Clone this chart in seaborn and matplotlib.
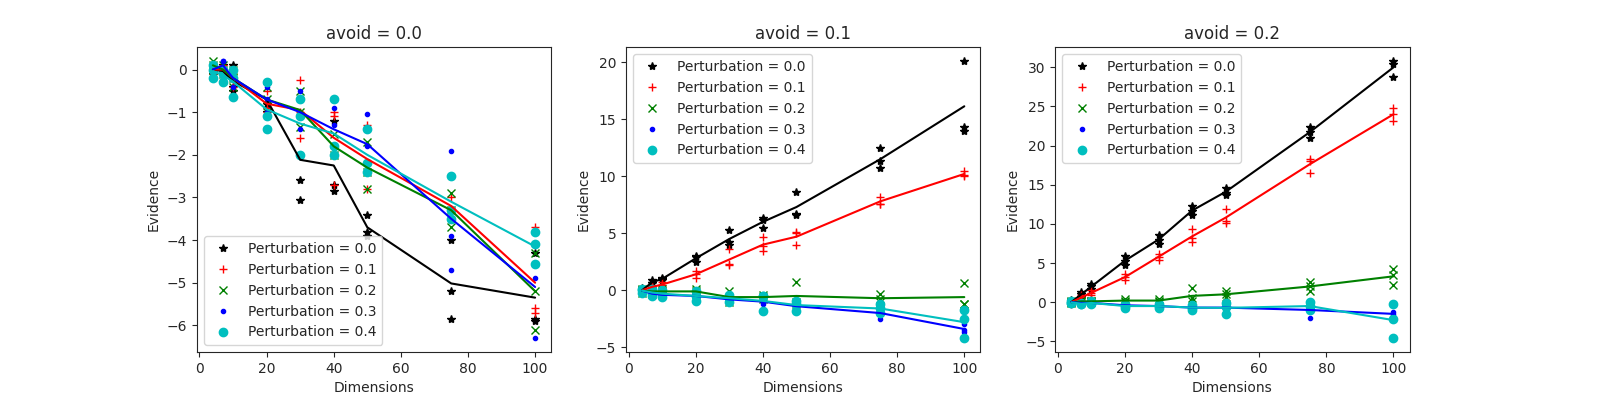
import matplotlib
matplotlib.use("Agg")
import matplotlib.pyplot as plt
import seaborn as sns
import pandas as pd

dims = [4, 7, 10, 20, 30, 40, 50, 75, 100]
avoids = [0.0, 0.1, 0.2]
perts = [0.0, 0.1, 0.2, 0.3, 0.4]

# samples per (avoid, perturbation): one list of 3 trials per dimension
ev_a0_p0 = [[0.1,-0.1,0.0],[0.1,-0.1,-0.1],[0.1,-0.4,-0.5],[-0.3,-0.8,-1.0],[-0.7,-2.6,-3.05],[-1.2,-2.7,-2.85],[-3.4,-3.9,-3.8],[-4.0,-5.2,-5.85],[-4.3,-5.85,-5.9]]
ev_a0_p1 = [[0.1,0.0,-0.1],[0.1,0.0,-0.1],[0.0,-0.2,-0.4],[-0.5,-0.9,-1.0],[-0.25,-1.6,-1.0],[-1.0,-2.7,-1.1],[-1.3,-2.8,-2.2],[-3.0,-3.3,-3.3],[-3.7,-5.6,-5.7]]
ev_a0_p2 = [[0.2,0.1,0.0],[0.1,0.0,-0.1],[0.0,-0.2,-0.4],[-0.4,-0.7,-1.0],[-0.5,-1.0,-1.35],[-1.5,-1.9,-2.0],[-1.7,-2.4,-2.8],[-2.9,-3.3,-3.7],[-4.3,-5.2,-6.1]]
ev_a0_p3 = [[0.1,0.0,-0.1],[0.2,0.2,-0.1],[0.0,-0.2,-0.4],[-0.4,-0.7,-1.0],[-0.5,-1.4,-1.1],[-0.9,-1.3,-2.0],[-1.05,-1.8,-2.4],[-3.9,-4.7,-1.9],[-4.9,-4.1,-6.3]]
ev_a0_p4 = [[0.1,0.0,-0.2],[0.0,-0.1,-0.3],[0.0,-0.2,-0.65],[-0.3,-1.1,-1.4],[-0.7,-1.1,-2.0],[-0.7,-1.8,-2.0],[-1.4,-2.2,-2.4],[-2.5,-3.3,-3.5],[-3.8,-4.1,-4.55]]

ev_a1_p0 = [[0.2,0.0,-0.2],[0.9,0.6,0.6],[1.1,0.9,1.0],[3.0,2.5,2.9],[5.3,4.0,4.2],[6.3,5.5,6.2],[8.6,6.7,6.6],[12.5,10.7,11.3],[20.1,14.3,14.0]]
ev_a1_p1 = [[0.1,0.0,-0.1],[0.4,0.3,0.2],[0.7,0.5,0.3],[1.7,1.1,1.4],[3.6,2.3,2.2],[4.7,3.4,3.9],[5.1,4.0,5.0],[8.2,7.6,7.6],[10.5,10.0,10.1]]
ev_a1_p2 = [[0.1,0.0,-0.2],[0.1,-0.1,-0.3],[0.1,-0.1,-0.3],[0.1,-0.1,-0.3],[-0.1,-0.7,-1.0],[-0.4,-0.6,-0.8],[0.7,-1.0,-1.2],[-0.3,-0.8,-1.0],[0.6,-1.2,-1.2]]
ev_a1_p3 = [[0.1,0.0,-0.2],[-0.1,-0.3,-0.5],[-0.2,-0.4,-0.6],[-0.3,-0.5,-0.7],[-0.6,-0.8,-1.0],[-0.8,-1.0,-1.2],[-1.2,-1.4,-1.6],[-1.6,-2.5,-1.9],[-3.0,-3.5,-3.7]]
ev_a1_p4 = [[0.1,0.0,-0.2],[0.1,-0.2,-0.5],[0.0,-0.3,-0.6],[-0.1,-0.5,-0.9],[-0.4,-0.7,-1.0],[-0.5,-0.5,-1.8],[-0.9,-1.2,-1.8],[-1.2,-1.6,-2.0],[-1.7,-2.5,-4.2]]

ev_a2_p0 = [[0.3,0.0,-0.3],[1.3,1.0,0.7],[2.3,2.0,1.7],[5.9,5.3,4.7],[8.6,8.0,7.4],[12.3,11.7,11.1],[14.6,14.0,13.7],[22.4,21.7,21.0],[30.8,30.4,28.8]]
ev_a2_p1 = [[0.2,0.0,-0.2],[0.9,0.6,0.3],[1.5,1.2,0.9],[3.6,3.2,2.8],[6.2,5.8,5.4],[9.3,8.2,7.7],[11.9,10.4,10.1],[18.3,16.5,18.0],[24.8,23.2,24.0]]
ev_a2_p2 = [[0.1,0.0,-0.1],[0.2,0.1,0.0],[0.2,0.1,0.0],[0.4,0.2,0.0],[0.4,0.2,0.0],[1.8,0.5,0.1],[1.4,1.0,0.6],[2.6,2.0,1.4],[4.2,2.2,3.5]]
ev_a2_p3 = [[0.1,0.0,-0.1],[0.0,-0.1,-0.2],[0.0,-0.1,-0.2],[-0.2,-0.4,-0.6],[-0.3,-0.5,-0.7],[-0.5,-0.7,-0.9],[-0.5,-0.7,-0.9],[-2.0,-0.6,-0.4],[-1.2,-1.5,-1.8]]
ev_a2_p4 = [[0.1,-0.1,-0.1],[-0.1,-0.2,-0.3],[0.1,-0.1,-0.3],[-0.2,-0.5,-0.8],[-0.2,-0.5,-0.8],[-0.4,-0.7,-1.0],[-0.1,-0.6,-1.5],[0.0,-0.5,-1.0],[-0.2,-2.1,-4.6]]

series = {
    0.0: [ev_a0_p0, ev_a0_p1, ev_a0_p2, ev_a0_p3, ev_a0_p4],
    0.1: [ev_a1_p0, ev_a1_p1, ev_a1_p2, ev_a1_p3, ev_a1_p4],
    0.2: [ev_a2_p0, ev_a2_p1, ev_a2_p2, ev_a2_p3, ev_a2_p4],
}

colors = ["k", "r", "g", "b", "c"]
markers = ["*", "+", "x", ".", "o"]

rows = []
for a in avoids:
    for p, s in zip(perts, series[a]):
        for d, trials in zip(dims, s):
            for v in trials:
                rows.append((a, p, d, v))
df = pd.DataFrame(rows, columns=["avoid", "pert", "dim", "ev"])

sns.set_style("ticks")
plt.rcParams["font.family"] = ["DejaVu Sans"]
fig, axes = plt.subplots(1, 3, figsize=(16, 4), dpi=100)
fig.subplots_adjust(left=0.123, right=0.881, wspace=0.211, top=0.882, bottom=0.12)

for ax, a in zip(axes, avoids):
    sub = df[df.avoid == a]
    for i, p in enumerate(perts):
        g = sub[sub.pert == p]
        ax.plot(g.dim, g.ev, linestyle="none", marker=markers[i], color=colors[i],
                label=f"Perturbation = {p}")
    for i, p in enumerate(perts):
        g = sub[sub.pert == p]
        sns.lineplot(data=g, x="dim", y="ev", estimator="mean", errorbar=None,
                     color=colors[i], ax=ax, legend=False)
    ax.set_title(f"avoid = {a}", fontsize=12)
    ax.set_xlabel("Dimensions")
    ax.set_ylabel("Evidence")
    ax.set_xticks([0, 20, 40, 60, 80, 100])
    ax.legend(loc="lower left" if a == 0.0 else "upper left")
    for sp in ax.spines.values():
        sp.set_visible(True)

fig.savefig("out.png")
